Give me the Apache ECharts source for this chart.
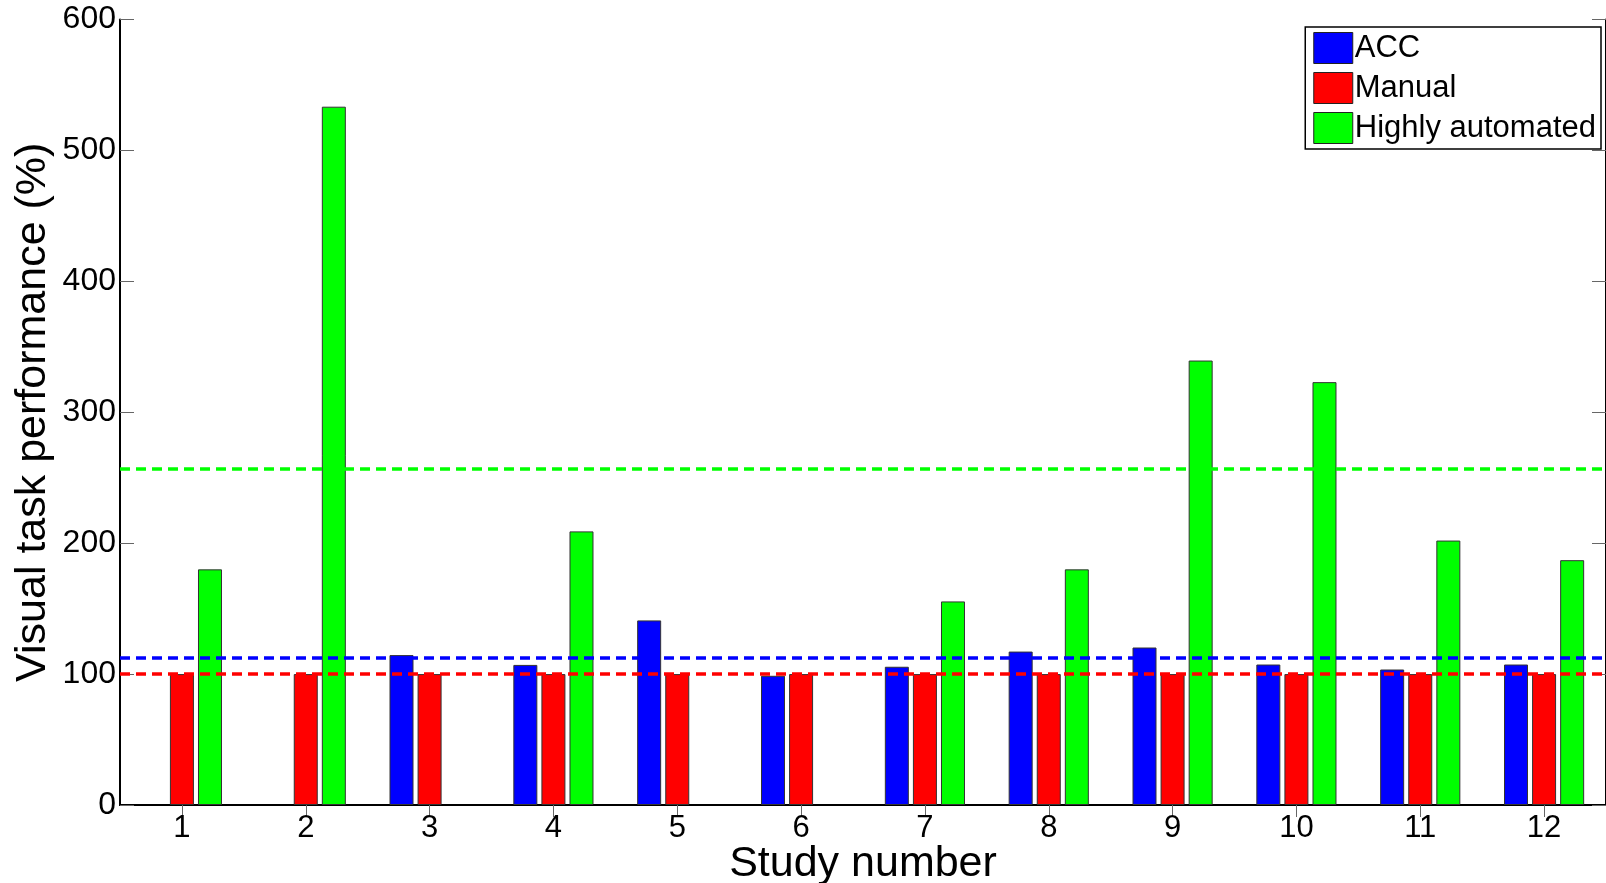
<!DOCTYPE html>
<html>
<head>
<meta charset="utf-8">
<script src="https://cdn.jsdelivr.net/npm/echarts@6/dist/echarts.min.js"></script>
<style>
html,body{margin:0;padding:0;background:#fff;}
#chart{width:1606px;height:883px;}
</style>
</head>
<body>
<div id="chart"></div>
<script>
const categories = ['1','2','3','4','5','6','7','8','9','10','11','12'];
const accValues = [null, null, 114.5, 107, 141, 98.7, 105.6, 117.2, 120.3, 107.3, 103.5, 107.3];
const manualValues = [100, 100, 100, 100, 100, 100, 100, 100, 100, 100, 100, 100];
const highlyAutomatedValues = [180, 533.4, null, 209, null, null, 155.5, 180, 339.5, 323, 202, 187];
const meanValues = { acc: 112.7, manual: 100, highlyAutomated: 256.6 };
const yTicks = { min: 0, max: 600, interval: 100 };
const seriesNames = ['ACC', 'Manual', 'Highly automated'];

const FONT = 'Liberation Sans, Arial, sans-serif';
const chart = echarts.init(document.getElementById('chart'), null, { renderer: 'canvas' });

function mkSeries(name, data, color, meanVal) {
  return {
    name: name,
    type: 'bar',
    data: data,
    barWidth: 24,
    barGap: '17%',
    itemStyle: { color: color, borderColor: '#333', borderWidth: 1 },
    emphasis: { disabled: true },
    markLine: {
      silent: true,
      symbol: ['none', 'none'],
      label: { show: false },
      z: 10,
      lineStyle: { color: color, type: [10, 6], width: 3.5 },
      data: [{ yAxis: meanVal }]
    }
  };
}

chart.setOption({
  animation: false,
  backgroundColor: '#fff',
  grid: { left: 120, right: 0, top: 19.5, bottom: 78, containLabel: false, outerBoundsMode: 'none' },
  legend: {
    orient: 'vertical',
    right: 5,
    top: 27,
    padding: [5, 5, 5, 8],
    itemWidth: 39,
    itemHeight: 31,
    itemGap: 8,
    borderColor: '#000',
    borderWidth: 1.5,
    backgroundColor: '#fff',
    icon: 'rect',
    itemStyle: { borderColor: '#222', borderWidth: 1 },
    textStyle: { fontSize: 31, fontFamily: FONT, color: '#000', padding: [0, 0, 0, -3] },
    data: seriesNames
  },
  xAxis: [{
    type: 'category',
    data: categories,
    position: 'bottom',
    name: 'Study number',
    nameLocation: 'middle',
    nameGap: 38,
    nameMoveOverlap: false,
    nameTextStyle: { fontSize: 43, fontFamily: FONT, color: '#000' },
    axisLine: { lineStyle: { color: '#000', width: 2 } },
    axisTick: { show: true, inside: true, alignWithLabel: true, length: 12, lineStyle: { color: '#666' } },
    axisLabel: { fontSize: 31, fontFamily: FONT, color: '#000', margin: 8 },
    splitLine: { show: false }
  }, {
    type: 'category',
    data: categories,
    position: 'top',
    axisLine: { lineStyle: { color: '#000', width: 1.5 } },
    axisTick: { show: true, inside: true, alignWithLabel: true, length: 12, lineStyle: { color: '#666' } },
    axisLabel: { show: false },
    splitLine: { show: false }
  }],
  yAxis: [{
    type: 'value',
    min: yTicks.min,
    max: yTicks.max,
    interval: yTicks.interval,
    position: 'left',
    name: 'Visual task performance (%)',
    nameLocation: 'middle',
    nameGap: 65,
    nameMoveOverlap: false,
    nameTextStyle: { fontSize: 43, fontFamily: FONT, color: '#000' },
    axisLine: { show: true, lineStyle: { color: '#000', width: 2 } },
    axisTick: { show: true, inside: true, length: 14, lineStyle: { color: '#666' } },
    axisLabel: { fontSize: 32, fontFamily: FONT, color: '#000', margin: 4 },
    splitLine: { show: false }
  }, {
    type: 'value',
    min: yTicks.min,
    max: yTicks.max,
    interval: yTicks.interval,
    position: 'right',
    axisLine: { show: true, lineStyle: { color: '#000', width: 2 } },
    axisTick: { show: true, inside: true, length: 14, lineStyle: { color: '#666' } },
    axisLabel: { show: false },
    splitLine: { show: false }
  }],
  series: [
    mkSeries(seriesNames[0], accValues, '#0000ff', meanValues.acc),
    mkSeries(seriesNames[1], manualValues, '#ff0000', meanValues.manual),
    mkSeries(seriesNames[2], highlyAutomatedValues, '#00ff00', meanValues.highlyAutomated)
  ]
});
</script>
</body>
</html>
